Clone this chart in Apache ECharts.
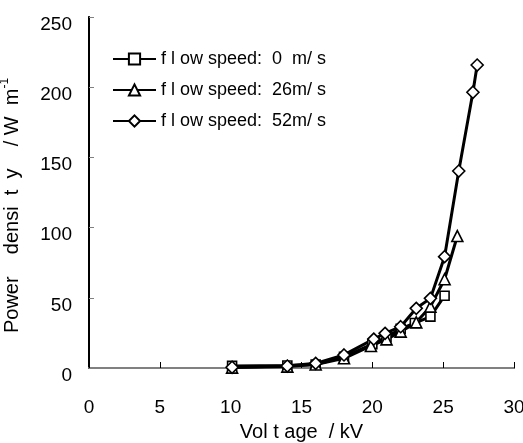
<!DOCTYPE html>
<html>
<head>
<meta charset="utf-8">
<script src="https://cdn.jsdelivr.net/npm/echarts@6/dist/echarts.min.js"></script>
<style>
  html, body { margin: 0; padding: 0; background: #fff; }
  #chart { width: 523px; height: 443px; }
</style>
</head>
<body>
<div id="chart"></div>
<script>
// Voltage (kV) for each measurement
const voltage0 = [10.1, 14.0, 16.0, 18.0, 20.0, 21.0, 22.0, 23.0, 24.1, 25.1];
const voltage26 = [10.1, 14.0, 16.0, 18.0, 19.9, 21.0, 22.0, 23.1, 24.1, 25.1, 26.0];
const voltage52 = [10.1, 14.0, 16.0, 18.0, 20.1, 20.9, 22.0, 23.1, 24.1, 25.1, 26.1, 27.1, 27.4];

// Power density (W m^-1)
const power0 = [1.5, 1.8, 2.5, 8.0, 17.0, 22.0, 28.0, 32.0, 36.6, 51.5];
const power26 = [0.3, 1.0, 2.5, 6.9, 15.7, 20.4, 25.9, 32.5, 43.7, 63.2, 94.0];
const power52 = [0.5, 1.4, 3.3, 9.3, 20.6, 24.7, 29.4, 42.5, 49.6, 79.3, 140.3, 196.4, 215.8];

const seriesNames = ['f l ow speed:  0  m/ s', 'f l ow speed:  26m/ s', 'f l ow speed:  52m/ s'];
const xTicks = [0, 5, 10, 15, 20, 25, 30];
const yTicks = [0, 50, 100, 150, 200, 250];

const FONT = "'Liberation Sans', Arial, sans-serif";

function pairs(xs, ys) {
  return xs.map((x, i) => [x, ys[i]]);
}

function lineSeries(name, xs, ys, symbol, size) {
  return {
    name: name,
    type: 'line',
    data: pairs(xs, ys),
    symbol: symbol,
    symbolSize: size,
    showAllSymbol: true,
    lineStyle: { color: '#000', width: 3 },
    itemStyle: { color: '#fff', borderColor: '#000', borderWidth: 1.6 },
    emphasis: { disabled: true },
    animation: false
  };
}

const chart = echarts.init(document.getElementById('chart'), null, { renderer: 'canvas' });

chart.setOption({
  backgroundColor: '#fff',
  animation: false,
  textStyle: { fontFamily: FONT },
  grid: { left: 89, right: 9, top: 17, bottom: 75, containLabel: false, outerBoundsMode: 'none' },
  legend: {
    orient: 'vertical',
    left: 112,
    top: 50,
    padding: 0,
    itemWidth: 43,
    itemHeight: 14,
    itemGap: 13,
    textStyle: { fontFamily: FONT, fontSize: 18, color: '#000' },
    data: seriesNames
  },
  xAxis: [{
    type: 'value',
    min: 0, max: 30, interval: 5,
    position: 'bottom',
    name: 'Vol t age  / kV',
    nameLocation: 'middle',
    nameGap: 54,
    nameTextStyle: { fontFamily: FONT, fontSize: 20, color: '#000' },
    axisLine: { show: true, onZero: false, lineStyle: { color: '#000', width: 2 } },
    axisTick: { show: true, inside: true, length: 6, lineStyle: { color: '#000', width: 1 } },
    axisLabel: { margin: 30, fontFamily: FONT, fontSize: 19, color: '#000',
      formatter: v => String(xTicks.includes(v) ? v : '') },
    splitLine: { show: false }
  }, {
    type: 'value',
    min: 0, max: 30, interval: 5,
    position: 'top',
    axisLine: { show: true, lineStyle: { color: '#808080', width: 2 } },
    axisTick: { show: false },
    axisLabel: { show: false },
    splitLine: { show: false }
  }],
  yAxis: [{
    type: 'value',
    min: 0, max: 250, interval: 50,
    position: 'left',
    name: 'Power    densi  t  y    / W  m{sup|-1}',
    nameLocation: 'middle',
    nameGap: 64,
    nameRotate: 90,
    nameTextStyle: {
      fontFamily: FONT, fontSize: 20, color: '#000', padding: [0, 26, 0, 0],
      rich: { sup: { fontFamily: FONT, fontSize: 12, color: '#000', padding: [0, 0, 14, 0] } }
    },
    axisLine: { show: true, onZero: false, lineStyle: { color: '#000', width: 2 } },
    axisTick: { show: true, inside: true, length: 5, lineStyle: { color: '#808080', width: 1 } },
    axisLabel: { margin: 17, fontFamily: FONT, fontSize: 19, lineHeight: 15, verticalAlign: 'top', color: '#000',
      formatter: v => String(yTicks.includes(v) ? v : '') },
    splitLine: { show: false }
  }, {
    type: 'value',
    min: 0, max: 250, interval: 50,
    position: 'right',
    axisLine: { show: true, lineStyle: { color: '#000', width: 1.5 } },
    axisTick: { show: false },
    axisLabel: { show: false },
    splitLine: { show: false }
  }],
  series: [
    lineSeries(seriesNames[0], voltage0, power0, 'rect', 9),
    lineSeries(seriesNames[1], voltage26, power26, 'triangle', 11),
    lineSeries(seriesNames[2], voltage52, power52, 'diamond', 12)
  ]
});
</script>
</body>
</html>
